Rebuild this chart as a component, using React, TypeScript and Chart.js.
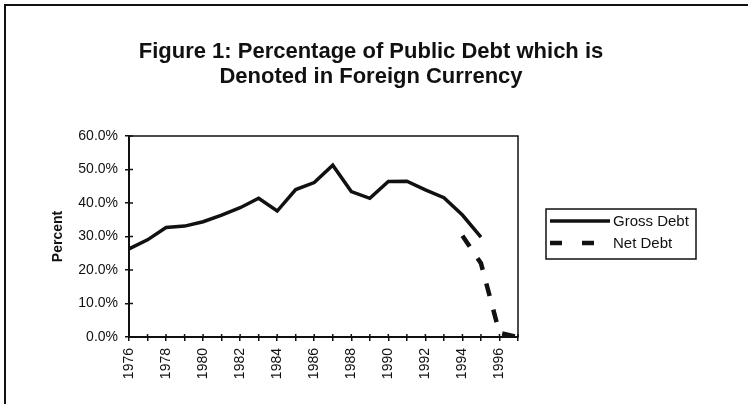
import React, { useEffect, useRef } from 'react';
import { Chart, registerables } from 'chart.js';

Chart.register(...registerables);

const years = [
  '1976', '1977', '1978', '1979', '1980', '1981', '1982', '1983', '1984', '1985', '1986',
  '1987', '1988', '1989', '1990', '1991', '1992', '1993', '1994', '1995', '1996', '1997',
];
const grossDebt = [
  26.3, 29.0, 32.7, 33.1, 34.4, 36.4, 38.6, 41.4, 37.6, 44.0, 46.1,
  51.3, 43.4, 41.4, 46.4, 46.5, 43.9, 41.6, 36.4, 29.8, null, null,
];
const netDebt = [
  null, null, null, null, null, null, null, null, null, null, null,
  null, null, null, null, null, null, null, 30.2, 22.0, 1.2, 0,
];
const seriesNames = ['Gross Debt', 'Net Debt'];
const titleLines = ['Figure 1: Percentage of Public Debt which is', 'Denoted in Foreign Currency'];
const yAxisTitle = 'Percent';
const yMin = 0;
const yMax = 60;
const yStep = 10;

const FONT = "'Liberation Sans', Arial, Helvetica, sans-serif";
const INK = '#111111';

const decorPlugin = {
  id: 'decor',
  beforeDraw(chart: any) {
    const ctx = chart.ctx;
    ctx.save();
    ctx.fillStyle = '#ffffff';
    ctx.fillRect(0, 0, chart.width, chart.height);
    ctx.restore();
  },
  afterDraw(chart: any) {
    const ctx = chart.ctx;
    const ca = chart.chartArea;
    ctx.save();
    ctx.strokeStyle = INK;
    ctx.fillStyle = INK;

    // outer frame (top and left visible)
    ctx.lineWidth = 2;
    ctx.beginPath();
    ctx.moveTo(5, chart.height);
    ctx.lineTo(5, 5);
    ctx.lineTo(chart.width, 5);
    ctx.stroke();

    // plot box
    ctx.lineWidth = 1.5;
    ctx.strokeRect(ca.left, ca.top, ca.right - ca.left, ca.bottom - ca.top);

    // inner tick marks crossing axes
    ctx.lineWidth = 1.5;
    const ys = chart.scales.y;
    ys.ticks.forEach((_t: any, i: number) => {
      const p = ys.getPixelForTick(i);
      ctx.beginPath();
      ctx.moveTo(ca.left, p);
      ctx.lineTo(ca.left + 4, p);
      ctx.stroke();
    });
    const xs = chart.scales.x;
    xs.ticks.forEach((_t: any, i: number) => {
      const p = xs.getPixelForTick(i);
      ctx.beginPath();
      ctx.moveTo(p, ca.bottom);
      ctx.lineTo(p, ca.bottom - 3);
      ctx.stroke();
    });

    // title
    ctx.font = `bold 22px ${FONT}`;
    ctx.textAlign = 'center';
    ctx.textBaseline = 'alphabetic';
    ctx.fillText(titleLines[0], 371, 58);
    ctx.fillText(titleLines[1], 371, 83);

    // legend
    const lx = 546, ly = 209, lw = 150, lh = 50;
    ctx.lineWidth = 1.5;
    ctx.strokeRect(lx, ly, lw, lh);
    const rows = [221, 243];
    ctx.font = `15px ${FONT}`;
    ctx.textAlign = 'left';
    ctx.textBaseline = 'middle';
    chart.data.datasets.forEach((ds: any, i: number) => {
      const y = rows[i];
      ctx.save();
      ctx.lineWidth = ds.borderWidth;
      ctx.lineCap = 'butt';
      if (ds.borderDash && ds.borderDash.length) {
        ctx.setLineDash([12, 20]);
        ctx.beginPath();
        ctx.moveTo(550, y);
        ctx.lineTo(595, y);
        ctx.stroke();
      } else {
        ctx.beginPath();
        ctx.moveTo(550, y);
        ctx.lineTo(610, y);
        ctx.stroke();
      }
      ctx.restore();
      ctx.fillText(ds.label, 613, y + 1);
    });
    ctx.restore();
  },
};

export default function App() {
  const canvasRef = useRef<HTMLCanvasElement | null>(null);

  useEffect(() => {
    const canvas = canvasRef.current;
    if (!canvas) return;
    const chart = new Chart(canvas, {
      type: 'line',
      data: {
        labels: years,
        datasets: [
          {
            label: seriesNames[0],
            data: grossDebt,
            borderColor: INK,
            backgroundColor: INK,
            borderWidth: 3.5,
            pointRadius: 0,
            tension: 0,
            spanGaps: false,
            borderJoinStyle: 'miter',
          },
          {
            label: seriesNames[1],
            data: netDebt,
            borderColor: INK,
            backgroundColor: INK,
            borderWidth: 4.5,
            borderDash: [13, 14],
            borderCapStyle: 'butt',
            pointRadius: 0,
            tension: 0,
            spanGaps: false,
          },
        ],
      },
      options: {
        responsive: false,
        animation: false,
        devicePixelRatio: 1,
        layout: { padding: { left: 46, right: 230, top: 136, bottom: 0 } },
        plugins: {
          legend: { display: false },
          title: { display: false },
          tooltip: { enabled: false },
        },
        scales: {
          x: {
            type: 'category',
            offset: false,
            grid: {
              display: true,
              drawOnChartArea: false,
              drawTicks: true,
              tickLength: 4,
              color: INK,
              lineWidth: 1.5,
            },
            border: { display: true, color: INK, width: 2 },
            ticks: {
              autoSkip: false,
              minRotation: 90,
              maxRotation: 90,
              padding: 7,
              color: INK,
              font: { family: FONT, size: 14 },
              callback: (_v: any, i: number) => (i % 2 === 0 ? years[i] : ''),
            },
            afterFit: (scale: any) => {
              scale.height = 67;
            },
          },
          y: {
            min: yMin,
            max: yMax,
            grid: {
              display: true,
              drawOnChartArea: false,
              drawTicks: true,
              tickLength: 4,
              color: INK,
              lineWidth: 1.5,
            },
            border: { display: true, color: INK, width: 2 },
            ticks: {
              stepSize: yStep,
              padding: 7,
              color: INK,
              font: { family: FONT, size: 14 },
              callback: (v: any) => Number(v).toFixed(1) + '%',
            },
            title: {
              display: true,
              text: yAxisTitle,
              color: INK,
              font: { family: FONT, size: 14, weight: 'bold' },
              padding: { top: 4, bottom: 4 },
            },
            afterFit: (scale: any) => {
              scale.width = 83;
            },
          },
        },
      },
      plugins: [decorPlugin],
    });
    return () => chart.destroy();
  }, []);

  return (
    <div style={{ position: 'absolute', left: 0, top: 0, width: 748, height: 404 }}>
      <canvas ref={canvasRef} width={748} height={404} style={{ display: 'block' }} />
    </div>
  );
}
